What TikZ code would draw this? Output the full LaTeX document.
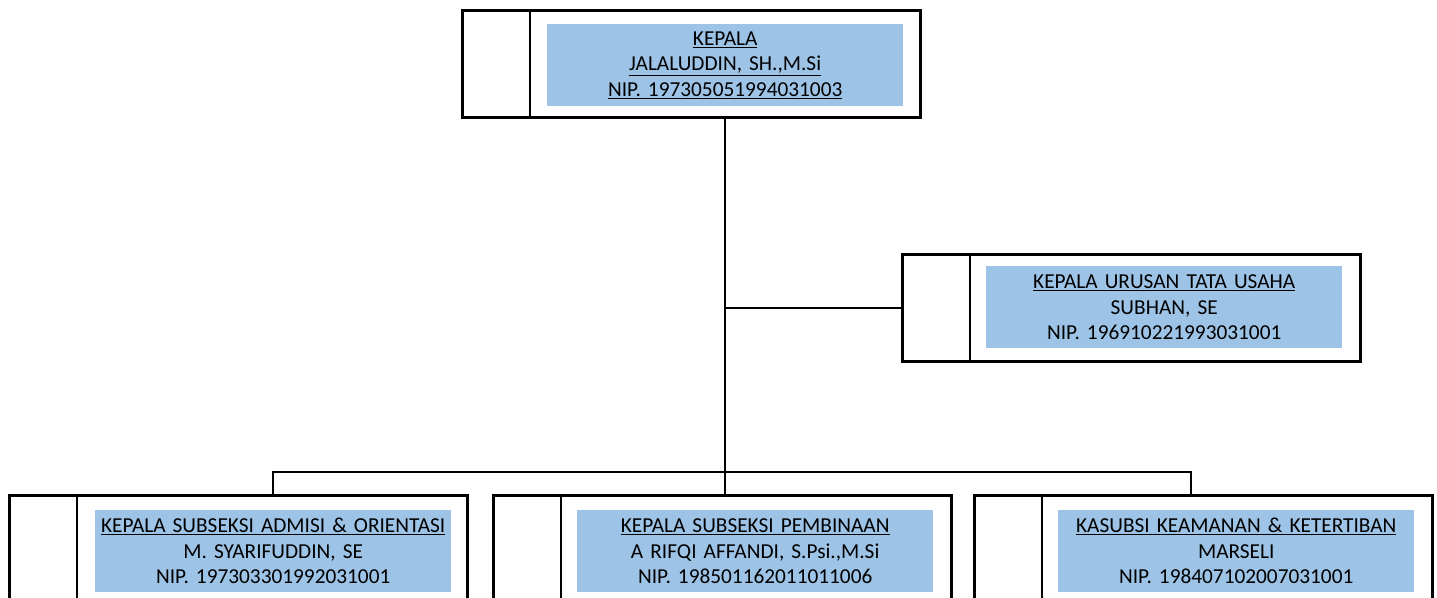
\documentclass[tikz,border=0pt]{standalone}
\usepackage{fontspec}
\setmainfont{Carlito}
\usepackage{tikz}
\usetikzlibrary{positioning}
\definecolor{unitblue}{HTML}{9DC3E6}
\tikzstyle{frame}=[rectangle,draw=black,line width=2.5pt,minimum width=458pt,minimum height=107pt,inner sep=0pt,anchor=north west]
\tikzstyle{unit}=[rectangle,fill=unitblue,minimum width=356pt,minimum height=82pt,text width=356pt,align=center,inner sep=0pt,font=\fontsize{21.3}{25.5}\selectfont]
\tikzstyle{link}=[line width=2.5pt]

\begin{document}
\begin{tikzpicture}[x=1pt,y=-1pt]
                \useasboundingbox (0,0) rectangle (1437,597);

                \node[frame] (kepala) at (461,9) {};
                \node[frame] (tatausaha) at (901,253) {};
                \node[frame] (admisi) at (8,494) {};
                \node[frame] (pembinaan) at (492,494) {};
                \node[frame] (ketertiban) at (973,494) {};

                \node[unit,below right=15pt and 86pt of kepala.north west] (kepalatxt)
                        {\underline{KEPALA}\\\underline{JALALUDDIN, SH.,M.Si}\\\underline{NIP. 197305051994031003}};
                \node[unit,below right=13pt and 85pt of tatausaha.north west] (tatausahatxt)
                        {\underline{KEPALA URUSAN TATA USAHA}\\SUBHAN, SE\\NIP. 196910221993031001};
                \node[unit,below right=16pt and 87pt of admisi.north west] (admisitxt)
                        {\underline{KEPALA SUBSEKSI ADMISI \& ORIENTASI}\\M. SYARIFUDDIN, SE\\NIP. 197303301992031001};
                \node[unit,below right=16pt and 85pt of pembinaan.north west] (pembinaantxt)
                        {\underline{KEPALA SUBSEKSI PEMBINAAN}\\A RIFQI AFFANDI, S.Psi.,M.Si\\NIP. 198501162011011006};
                \node[unit,below right=16pt and 85pt of ketertiban.north west] (ketertibantxt)
                        {\underline{KASUBSI KEAMANAN \& KETERTIBAN}\\MARSELI\\NIP. 198407102007031001};

                % dividers
                \foreach \b in {kepala,tatausaha,admisi,pembinaan,ketertiban}
                        \draw[link] ([xshift=69pt]\b.north west) -- ([xshift=69pt]\b.south west);

                \coordinate (junc) at (725,472);
                \coordinate (lbar) at (273,472);
                \coordinate (rbar) at (1191,472);

                \draw[link] (kepala.south -| junc) -- (junc |- pembinaan.north);
                \draw[link] (junc |- tatausaha.west) -- (tatausaha.west);
                \draw[link] (lbar |- admisi.north) -- (lbar) -- (rbar) -- (rbar |- ketertiban.north);
\end{tikzpicture}
\end{document}
